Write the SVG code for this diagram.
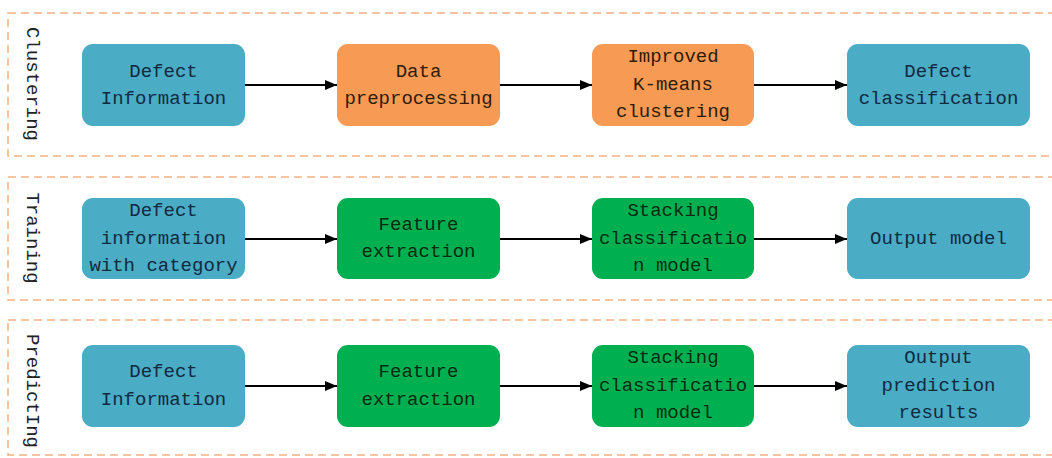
<svg xmlns="http://www.w3.org/2000/svg" width="1052" height="458" viewBox="0 0 1052 458">
<defs>
<marker id="arr" markerWidth="12" markerHeight="10" refX="12" refY="5" orient="auto" markerUnits="userSpaceOnUse">
<path d="M0,0 L12,5 L0,10 Z" fill="#000"/>
</marker>
<style>
.stage{fill:none;stroke:#F4B183;stroke-width:1.5;stroke-dasharray:8 5}
.lab{font-family:"Liberation Mono",monospace;font-size:19px;fill:#222;text-anchor:middle;dominant-baseline:central}
.t{font-family:"Liberation Mono",monospace;font-size:19px;text-anchor:middle;dominant-baseline:central}
.blue rect{fill:#4BACC6}
.blue text{fill:#102a40}
.orange rect{fill:#F79A53}
.orange text{fill:#2e1c0a}
.green rect{fill:#00B050}
.green text{fill:#062c12}
.conn line{stroke:#000;stroke-width:2;marker-end:url(#arr)}
</style>
</defs>
<rect width="1052" height="458" fill="#fff"/>
<g id="stages">
<rect class="stage" x="8" y="13" width="1060" height="143"/>
<rect class="stage" x="8" y="177" width="1060" height="123"/>
<rect class="stage" x="8" y="320" width="1060" height="135"/>
<text class="lab" transform="translate(32,84) rotate(90)">Clustering</text>
<text class="lab" transform="translate(32,238) rotate(90)">Training</text>
<text class="lab" transform="translate(32,391) rotate(90)">PredictIng</text>
</g>
<g id="n1" class="blue"><rect x="82" y="44" width="163" height="82" rx="11"/><text class="t" x="163.5" y="72">Defect</text><text class="t" x="163.5" y="99">Information</text></g>
<g id="n2" class="orange"><rect x="337" y="44" width="163" height="82" rx="11"/><text class="t" x="418.5" y="72">Data</text><text class="t" x="418.5" y="99">preprocessing</text></g>
<g id="n3" class="orange"><rect x="592" y="44" width="162" height="82" rx="11"/><text class="t" x="673" y="57">Improved</text><text class="t" x="673" y="84.5">K-means</text><text class="t" x="673" y="112">clustering</text></g>
<g id="n4" class="blue"><rect x="847" y="44" width="183" height="82" rx="11"/><text class="t" x="938.5" y="72">Defect</text><text class="t" x="938.5" y="99">classification</text></g>
<g id="n5" class="blue"><rect x="82" y="198" width="163" height="81" rx="11"/><text class="t" x="163.5" y="211">Defect</text><text class="t" x="163.5" y="238.5">information</text><text class="t" x="163.5" y="266">with category</text></g>
<g id="n6" class="green"><rect x="337" y="198" width="163" height="81" rx="11"/><text class="t" x="418.5" y="225">Feature</text><text class="t" x="418.5" y="252">extraction</text></g>
<g id="n7" class="green"><rect x="592" y="198" width="162" height="81" rx="11"/><text class="t" x="673" y="211">Stacking</text><text class="t" x="673" y="238.5">classificatio</text><text class="t" x="673" y="266">n model</text></g>
<g id="n8" class="blue"><rect x="847" y="198" width="183" height="81" rx="11"/><text class="t" x="938.5" y="238.5">Output model</text></g>
<g id="n9" class="blue"><rect x="82" y="345" width="163" height="82" rx="11"/><text class="t" x="163.5" y="372">Defect</text><text class="t" x="163.5" y="400">Information</text></g>
<g id="n10" class="green"><rect x="337" y="345" width="163" height="82" rx="11"/><text class="t" x="418.5" y="372">Feature</text><text class="t" x="418.5" y="400">extraction</text></g>
<g id="n11" class="green"><rect x="592" y="345" width="162" height="82" rx="11"/><text class="t" x="673" y="358">Stacking</text><text class="t" x="673" y="386">classificatio</text><text class="t" x="673" y="413">n model</text></g>
<g id="n12" class="blue"><rect x="847" y="345" width="183" height="82" rx="11"/><text class="t" x="938.5" y="358">Output</text><text class="t" x="938.5" y="386">prediction</text><text class="t" x="938.5" y="413">results</text></g>
<g id="connectors" class="conn">
<line x1="245" y1="85" x2="337" y2="85"/>
<line x1="500" y1="85" x2="592" y2="85"/>
<line x1="754" y1="85" x2="847" y2="85"/>
<line x1="245" y1="239" x2="337" y2="239"/>
<line x1="500" y1="239" x2="592" y2="239"/>
<line x1="754" y1="239" x2="847" y2="239"/>
<line x1="245" y1="386" x2="337" y2="386"/>
<line x1="500" y1="386" x2="592" y2="386"/>
<line x1="754" y1="386" x2="847" y2="386"/>
</g>
</svg>
